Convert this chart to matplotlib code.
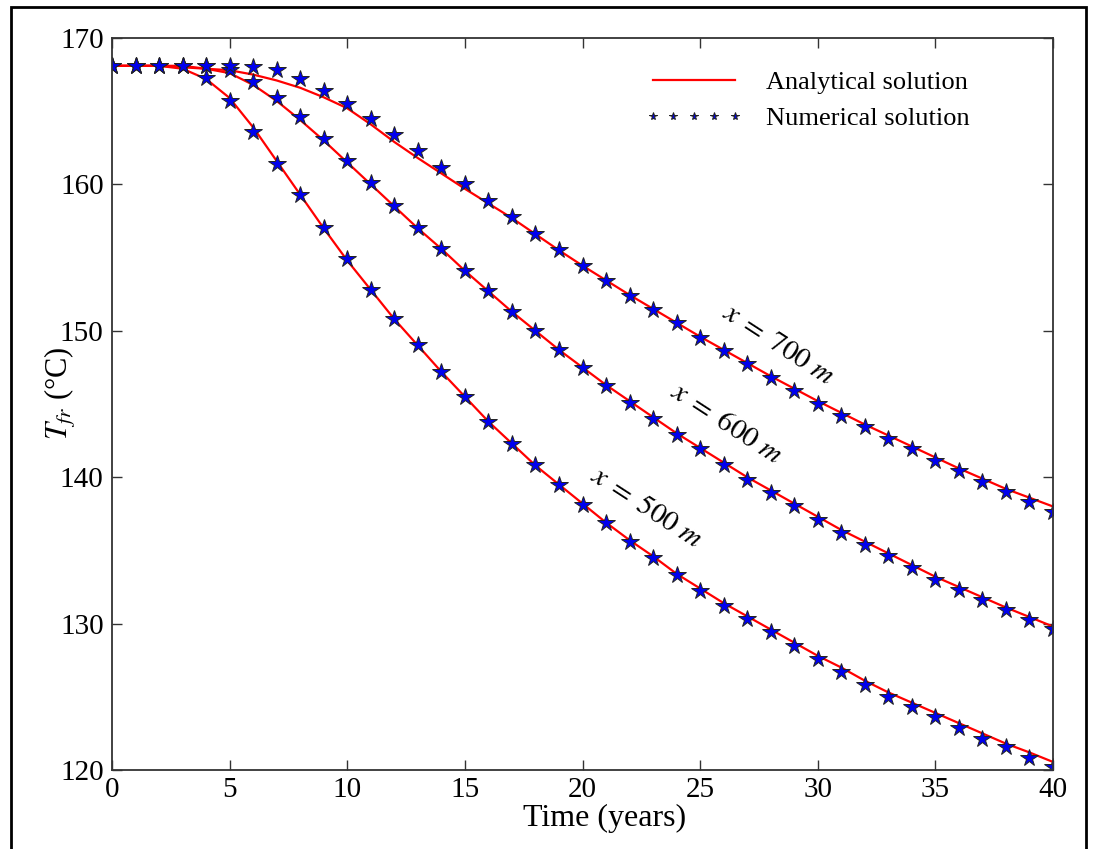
import matplotlib
matplotlib.use("Agg")
import matplotlib.pyplot as plt
from matplotlib.patches import Rectangle

# ------------------------------------------------------------
# data
# ------------------------------------------------------------
years = list(range(0, 41))

# analytical solution (red lines)
line_500 = [168.1, 168.1, 168.1, 167.9, 167.2, 165.9, 163.9, 161.6, 159.3, 157.0,
            154.8, 152.8, 150.8, 149.0, 147.2, 145.5, 143.8, 142.3, 140.8, 139.5,
            138.2, 136.9, 135.7, 134.6, 133.4, 132.4, 131.4, 130.5, 129.6, 128.7,
            127.8, 127.0, 126.1, 125.3, 124.6, 123.9, 123.2, 122.5, 121.8, 121.2,
            120.55]
line_600 = [168.1, 168.1, 168.1, 168.1, 167.9, 167.6, 166.8, 165.7, 164.4, 163.0,
            161.5, 160.0, 158.5, 157.0, 155.6, 154.1, 152.7, 151.3, 150.0, 148.7,
            147.5, 146.3, 145.2, 144.1, 143.0, 142.0, 141.0, 140.0, 139.1, 138.2,
            137.3, 136.4, 135.6, 134.8, 134.0, 133.2, 132.5, 131.8, 131.1, 130.45,
            129.8]
line_700 = [168.1, 168.1, 168.1, 168.0, 167.9, 167.8, 167.5, 167.1, 166.6, 165.95,
            165.2, 164.1, 162.9, 161.8, 160.75, 159.7, 158.7, 157.7, 156.6, 155.5,
            154.45, 153.45, 152.45, 151.5, 150.55, 149.6, 148.7, 147.8, 146.9, 146.05,
            145.2, 144.4, 143.6, 142.85, 142.1, 141.35, 140.6, 139.9, 139.2, 138.6,
            138.0]

# numerical solution (blue stars)
num_500 = [168.1, 168.1, 168.1, 168.1, 167.3, 165.7, 163.6, 161.4, 159.3, 157.0,
           154.9, 152.8, 150.8, 149.0, 147.2, 145.5, 143.8, 142.3, 140.8, 139.5,
           138.1, 136.9, 135.6, 134.5, 133.3, 132.2, 131.2, 130.3, 129.4, 128.5,
           127.6, 126.7, 125.8, 125.0, 124.3, 123.6, 122.9, 122.1, 121.6, 120.8,
           120.2]
num_600 = [168.1, 168.1, 168.1, 168.1, 168.1, 167.8, 167.0, 165.9, 164.6, 163.1,
           161.6, 160.1, 158.5, 157.0, 155.6, 154.1, 152.7, 151.3, 150.0, 148.7,
           147.45, 146.2, 145.1, 144.0, 142.9, 141.9, 140.8, 139.8, 138.9, 138.0,
           137.1, 136.2, 135.4, 134.6, 133.8, 133.0, 132.3, 131.6, 130.9, 130.25,
           129.6]
num_700 = [168.1, 168.1, 168.1, 168.1, 168.1, 168.1, 168.0, 167.8, 167.2, 166.4,
           165.5, 164.5, 163.4, 162.3, 161.1, 160.0, 158.9, 157.8, 156.6, 155.5,
           154.4, 153.4, 152.4, 151.4, 150.5, 149.5, 148.6, 147.7, 146.8, 145.9,
           145.0, 144.2, 143.4, 142.6, 141.9, 141.1, 140.4, 139.7, 139.0, 138.3,
           137.6]

x_ticks = [0, 5, 10, 15, 20, 25, 30, 35, 40]
y_ticks = [120, 130, 140, 150, 160, 170]

# ------------------------------------------------------------
# style
# ------------------------------------------------------------
plt.rcParams["font.family"] = ["Liberation Serif", "DejaVu Serif"]
plt.rcParams["mathtext.fontset"] = "stix"

fig = plt.figure(figsize=(10.93, 8.49), dpi=100)
ax = fig.add_axes([112 / 1093, 1 - 770 / 849, 941 / 1093, 732 / 849])

# outer frame around the figure
fig.patches.append(Rectangle((11 / 1093, -0.01), 1075 / 1093, 1.01 - 6.5 / 849,
                             transform=fig.transFigure, fill=False,
                             edgecolor="black", linewidth=2))

# analytical lines
ax.plot(years, line_500, color="red", linewidth=1.6, label="Analytical solution")
ax.plot(years, line_600, color="red", linewidth=1.6)
ax.plot(years, line_700, color="red", linewidth=1.6)

# numerical stars
star_kw = dict(linestyle="none", marker="*", markersize=13,
               markerfacecolor="#0000ee", markeredgecolor="#222222",
               markeredgewidth=0.7)
ax.plot(years, num_500, label="Numerical solution", **star_kw)
ax.plot(years, num_600, **star_kw)
ax.plot(years, num_700, **star_kw)

ax.set_xlim(0, 40)
ax.set_ylim(120, 170)
ax.set_xticks(x_ticks)
ax.set_yticks(y_ticks)
ax.tick_params(direction="in", length=7, width=1, color="#333333",
               top=True, right=True, labelsize=21, pad=6)
ax.tick_params(axis="x", pad=5)
for sp in ax.spines.values():
    sp.set_color("#333333")
    sp.set_linewidth(1.3)

ax.set_xlabel("Time (years)", fontsize=23)
ax.xaxis.set_label_coords((605 - 112) / 941, -(818 - 770) / 732)
ax.xaxis.label.set_va("center")
ax.set_ylabel(r"$T_{fr}$ (°C)", fontsize=22)
ax.yaxis.set_label_coords((60 - 112) / 941, (770 - 393) / 732)
ax.yaxis.label.set_va("center")

# curve labels
ax.text(28.3, 149.0, r"$x\;=\;700\ m$", rotation=-33, fontsize=21,
        ha="center", va="center")
ax.text(26.1, 143.6, r"$x\;=\;600\ m$", rotation=-33, fontsize=21,
        ha="center", va="center")
ax.text(22.7, 137.9, r"$x\;=\;500\ m$", rotation=-33, fontsize=21,
        ha="center", va="center")

ax.legend(loc="upper left", bbox_to_anchor=((645 - 112) / 941, (770 - 71) / 732),
          frameon=False, fontsize=19, numpoints=5, markerscale=0.45,
          handlelength=3.7, handletextpad=0.9, labelspacing=0.45,
          borderpad=0, borderaxespad=0)

fig.savefig("out.png", dpi=100)
